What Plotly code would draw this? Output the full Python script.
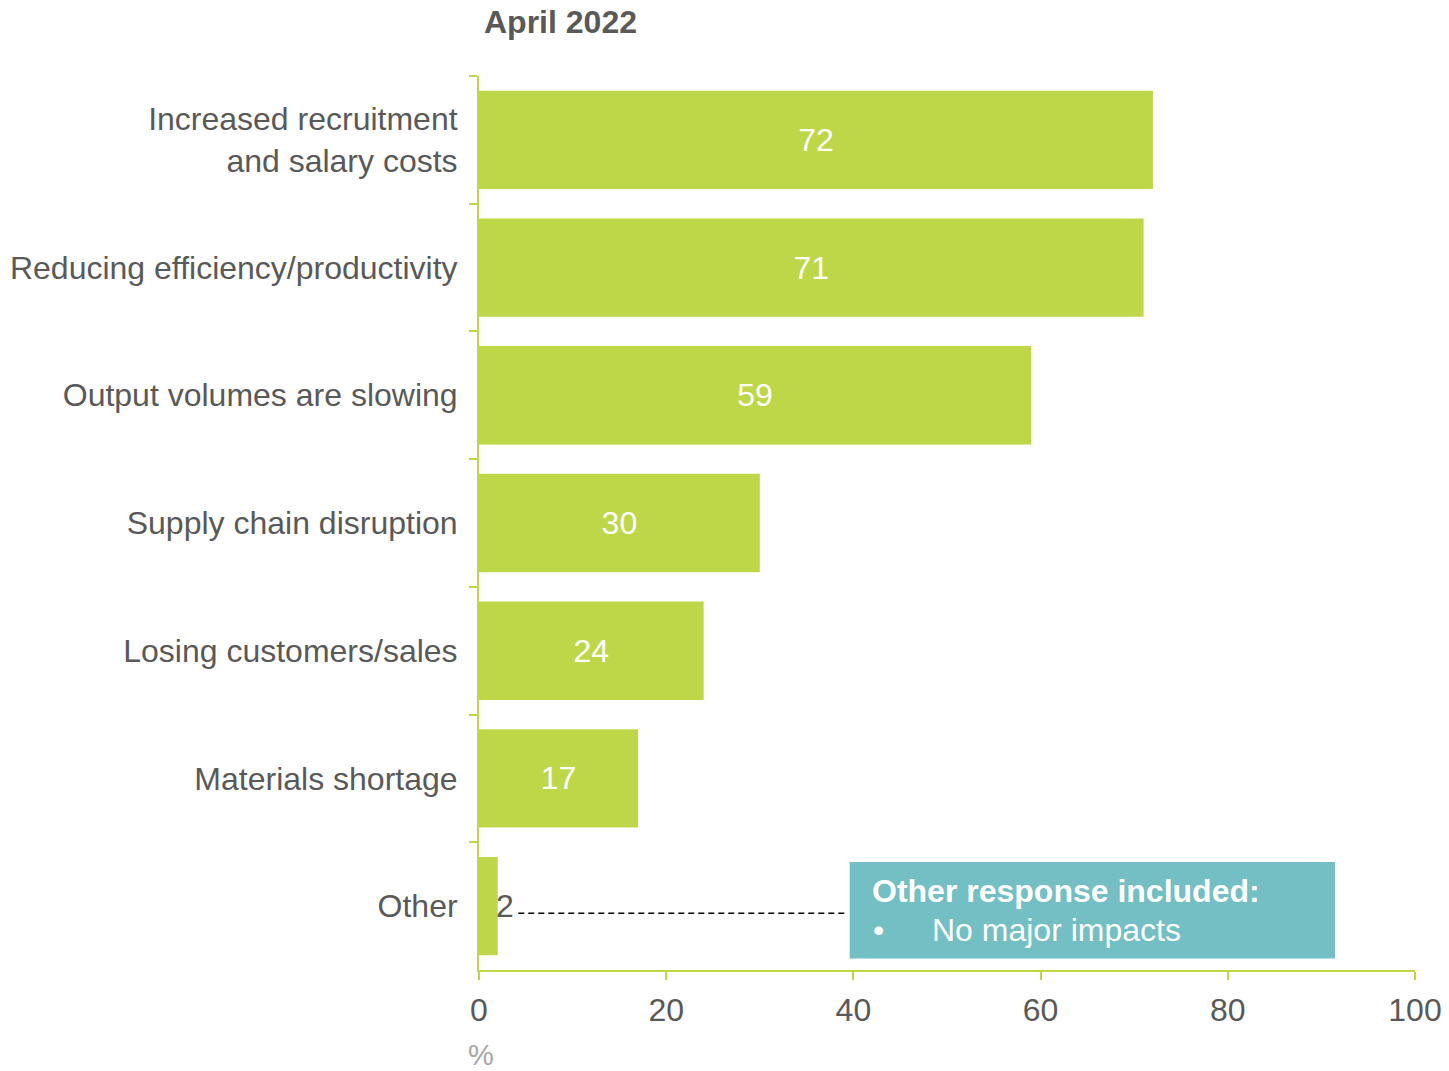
import plotly.graph_objects as go

categories = [
    "Increased recruitment<br>and salary costs",
    "Reducing efficiency/productivity",
    "Output volumes are slowing",
    "Supply chain disruption",
    "Losing customers/sales",
    "Materials shortage",
    "Other",
]
values = [72, 71, 59, 30, 24, 17, 2]
x_ticks = [0, 20, 40, 60, 80, 100]
title_text = "April 2022"
box_title = "Other response included:"
box_item = "No major impacts"

GREEN = "#BDD749"
GRAY = "#595959"
TEAL = "#73BFC4"
FONT = "Liberation Sans, Arial, sans-serif"
FS = 32

inside_text = [str(v) if v > 5 else "" for v in values]

fig = go.Figure()
fig.add_trace(go.Bar(
    y=categories,
    x=values,
    orientation="h",
    marker=dict(color=GREEN, line=dict(width=0)),
    text=inside_text,
    textposition="inside",
    insidetextanchor="middle",
    insidetextfont=dict(color="white", size=FS, family=FONT),
    cliponaxis=False,
    hoverinfo="skip",
))

# outside label for the small bar
for v, c in zip(values, categories):
    if v <= 5:
        fig.add_annotation(xref="x", yref="y", x=v, y=c, text=str(v), showarrow=False,
                           xanchor="left", yanchor="middle", xshift=-4,
                           font=dict(color=GRAY, size=FS, family=FONT))

fig.update_layout(
    width=1449, height=1071, autosize=False,
    margin=dict(l=479, r=34, t=76, b=101, autoexpand=False),
    plot_bgcolor="white", paper_bgcolor="white",
    bargap=0.23,
    showlegend=False,
    font=dict(family=FONT, size=FS, color=GRAY),
)
fig.update_xaxes(
    range=[0, 100], tickvals=x_ticks, ticktext=[str(t) for t in x_ticks],
    showgrid=False, zeroline=False, automargin=False,
    showline=True, linecolor=GREEN, linewidth=2,
    ticks="outside", ticklen=8, tickwidth=2, tickcolor=GREEN,
    ticklabelstandoff=3,
    tickfont=dict(size=FS, color=GRAY, family=FONT),
)
fig.update_yaxes(
    autorange="reversed", type="category",
    showgrid=False, zeroline=False, automargin=False,
    showline=True, linecolor=GREEN, linewidth=2,
    ticks="outside", ticklen=8, tickwidth=2, tickcolor=GREEN,
    tickson="boundaries", ticklabelstandoff=13,
    tickfont=dict(size=FS, color=GRAY, family=FONT),
)

# Callout box and leader line for "Other"
fig.add_shape(type="line", xref="x", yref="y", x0=4.2, x1=39.4, y0=6.055, y1=6.055,
              line=dict(color="black", width=1.5, dash="6px,4px"))
fig.add_shape(type="rect", xref="x", yref="y", x0=39.6, x1=91.45, y0=5.655, y1=6.41,
              fillcolor=TEAL, line=dict(width=0), layer="above")

fig.add_annotation(xref="x", yref="y", x=41.77, y=5.883, text="<b>" + box_title + "</b>",
                   showarrow=False, xanchor="left", yanchor="middle",
                   font=dict(color="white", size=FS, family=FONT))
fig.add_annotation(xref="x", yref="y", x=41.9, y=6.188, text="•",
                   showarrow=False, xanchor="left", yanchor="middle",
                   font=dict(color="white", size=FS, family=FONT))
fig.add_annotation(xref="x", yref="y", x=48.2, y=6.188, text=box_item,
                   showarrow=False, xanchor="left", yanchor="middle",
                   font=dict(color="white", size=FS, family=FONT))

# Title and unit label
fig.add_annotation(xref="paper", yref="paper", x=3 / 936, y=1 + 54 / 894,
                   text="<b>" + title_text + "</b>", showarrow=False,
                   xanchor="left", yanchor="middle",
                   font=dict(color=GRAY, size=FS, family=FONT))
fig.add_annotation(xref="x", yref="paper", x=0.2, y=-85 / 894, text="%",
                   showarrow=False, xanchor="center", yanchor="middle",
                   font=dict(color="#A6A6A6", size=29, family=FONT))

fig.write_html(
    "out.html",
    config={"displayModeBar": False, "responsive": False},
    post_script="document.body.style.margin='0';document.body.style.padding='0';document.body.style.overflow='hidden';",
)
